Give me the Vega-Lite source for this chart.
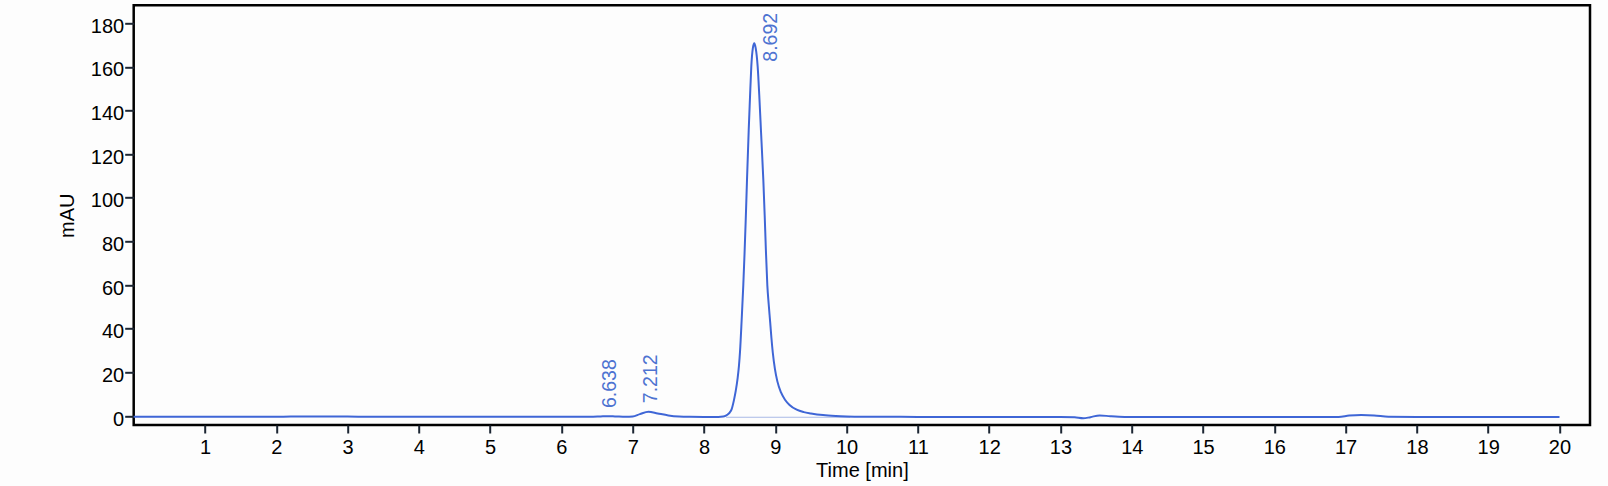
{
  "$schema": "https://vega.github.io/schema/vega-lite/v6.json",
  "autosize": "none",
  "padding": {"left": 133.7, "top": 5.3, "right": 18, "bottom": 61},
  "width": 1456.3,
  "height": 419.7,
  "background": "#fdfdfd",
  "config": {
    "view": {"stroke": "#000000", "strokeWidth": 2.5, "fill": "#fdfdfd"},
    "axis": {
      "domain": false,
      "grid": false,
      "labelFont": "Liberation Sans",
      "labelFontSize": 20,
      "labelColor": "#000000",
      "tickColor": "#1c2633",
      "tickWidth": 2,
      "titleFont": "Liberation Sans",
      "titleFontSize": 20,
      "titleFontWeight": "normal",
      "titleColor": "#000000"
    }
  },
  "datasets": {
    "trace": [
      {"time": 0, "mAU": -0.35},
      {"time": 1, "mAU": -0.35},
      {"time": 2, "mAU": -0.35},
      {"time": 2.2, "mAU": -0.2},
      {"time": 3.0, "mAU": -0.2},
      {"time": 3.3, "mAU": -0.35},
      {"time": 4, "mAU": -0.35},
      {"time": 5, "mAU": -0.35},
      {"time": 6, "mAU": -0.35},
      {"time": 6.4, "mAU": -0.3},
      {"time": 6.55, "mAU": -0.15},
      {"time": 6.64, "mAU": -0.05},
      {"time": 6.75, "mAU": -0.15},
      {"time": 6.9, "mAU": -0.35},
      {"time": 7.0, "mAU": -0.2},
      {"time": 7.1, "mAU": 0.9},
      {"time": 7.22, "mAU": 2.0},
      {"time": 7.35, "mAU": 1.2},
      {"time": 7.5, "mAU": 0.3},
      {"time": 7.65, "mAU": -0.2},
      {"time": 7.8, "mAU": -0.35},
      {"time": 8.0, "mAU": -0.4},
      {"time": 8.2, "mAU": -0.4},
      {"time": 8.27, "mAU": -0.25},
      {"time": 8.3, "mAU": 0.05},
      {"time": 8.327, "mAU": 0.6},
      {"time": 8.36, "mAU": 1.6},
      {"time": 8.388, "mAU": 3.2},
      {"time": 8.42, "mAU": 7.3},
      {"time": 8.445, "mAU": 11.5},
      {"time": 8.472, "mAU": 17.5},
      {"time": 8.49, "mAU": 23},
      {"time": 8.505, "mAU": 29.5},
      {"time": 8.528, "mAU": 44},
      {"time": 8.551, "mAU": 60},
      {"time": 8.568, "mAU": 74},
      {"time": 8.585, "mAU": 89.8},
      {"time": 8.603, "mAU": 108.2},
      {"time": 8.627, "mAU": 131},
      {"time": 8.645, "mAU": 146},
      {"time": 8.663, "mAU": 160},
      {"time": 8.685, "mAU": 168.6},
      {"time": 8.705, "mAU": 170.8},
      {"time": 8.725, "mAU": 168.6},
      {"time": 8.753, "mAU": 160},
      {"time": 8.775, "mAU": 147},
      {"time": 8.8, "mAU": 130},
      {"time": 8.832, "mAU": 108.2},
      {"time": 8.851, "mAU": 92},
      {"time": 8.868, "mAU": 76},
      {"time": 8.888, "mAU": 60},
      {"time": 8.908, "mAU": 51},
      {"time": 8.928, "mAU": 43},
      {"time": 8.945, "mAU": 36},
      {"time": 8.965, "mAU": 29},
      {"time": 8.995, "mAU": 21.5},
      {"time": 9.028, "mAU": 16},
      {"time": 9.08, "mAU": 10.8},
      {"time": 9.136, "mAU": 7.5},
      {"time": 9.2, "mAU": 5.1},
      {"time": 9.3, "mAU": 2.9},
      {"time": 9.4, "mAU": 1.8},
      {"time": 9.5, "mAU": 1.2},
      {"time": 9.67, "mAU": 0.46},
      {"time": 9.85, "mAU": 0.05},
      {"time": 10.0, "mAU": -0.15},
      {"time": 10.2, "mAU": -0.3},
      {"time": 10.6, "mAU": -0.35},
      {"time": 11, "mAU": -0.4},
      {"time": 12, "mAU": -0.4},
      {"time": 13.0, "mAU": -0.4},
      {"time": 13.2, "mAU": -0.6},
      {"time": 13.32, "mAU": -1.05},
      {"time": 13.42, "mAU": -0.5},
      {"time": 13.55, "mAU": 0.3},
      {"time": 13.7, "mAU": -0.1},
      {"time": 13.9, "mAU": -0.4},
      {"time": 15, "mAU": -0.4},
      {"time": 16, "mAU": -0.4},
      {"time": 16.9, "mAU": -0.4},
      {"time": 17.05, "mAU": 0.2},
      {"time": 17.22, "mAU": 0.46},
      {"time": 17.4, "mAU": 0.3},
      {"time": 17.6, "mAU": -0.35},
      {"time": 18, "mAU": -0.4},
      {"time": 20, "mAU": -0.4}
    ],
    "peaks": [
      {"rt": 6.638, "height": -0.2, "label": "6.638", "major": false},
      {"rt": 7.212, "height": 2.0, "label": "7.212", "major": false},
      {"rt": 8.692, "height": 170.8, "label": "8.692", "major": true}
    ],
    "baselines": [
      {"start": 8.31, "end": 10.05, "level": -0.55}
    ]
  },
  "layer": [
    {
      "data": {"name": "baselines"},
      "mark": {"type": "rule", "color": "#a9b9e6", "strokeWidth": 1},
      "encoding": {
        "x": {"field": "start", "type": "quantitative", "scale": {"domain": [0, 20.428], "nice": false, "zero": false}},
        "x2": {"field": "end"},
        "y": {"field": "level", "type": "quantitative", "scale": {"domain": [-4.1, 188.2], "nice": false, "zero": false}}
      }
    },
    {
      "data": {"name": "trace"},
      "mark": {"type": "line", "color": "#3f66d6", "strokeWidth": 2, "interpolate": "monotone"},
      "encoding": {
        "x": {
          "field": "time",
          "type": "quantitative",
          "title": "Time [min]",
          "axis": {
            "values": [1, 2, 3, 4, 5, 6, 7, 8, 9, 10, 11, 12, 13, 14, 15, 16, 17, 18, 19, 20],
            "format": "d",
            "tickSize": 8,
            "labelPadding": 4,
            "titleBaseline": "alphabetic",
            "titleAlign": "center",
            "titleX": 728.2,
            "titleY": 51
          }
        },
        "y": {
          "field": "mAU",
          "type": "quantitative",
          "title": "mAU",
          "axis": {
            "values": [0, 20, 40, 60, 80, 100, 120, 140, 160, 180],
            "format": "d",
            "tickSize": 9,
            "labelPadding": 1,
            "labelOffset": 3,
            "titleAngle": 270,
            "titleBaseline": "alphabetic",
            "titleAlign": "center",
            "titleX": -60.4,
            "titleY": 210
          }
        }
      }
    },
    {
      "data": {"name": "peaks"},
      "transform": [{"filter": "!datum.major"}],
      "mark": {"type": "text", "angle": 270, "align": "left", "baseline": "alphabetic", "dx": 8.5, "dy": 9.5, "font": "Liberation Sans", "fontSize": 19.5, "color": "#4d73d1"},
      "encoding": {
        "x": {"field": "rt", "type": "quantitative"},
        "y": {"field": "height", "type": "quantitative"},
        "text": {"field": "label", "type": "nominal"}
      }
    },
    {
      "data": {"name": "peaks"},
      "transform": [{"filter": "datum.major"}],
      "mark": {"type": "text", "angle": 270, "align": "left", "baseline": "alphabetic", "dx": -18.4, "dy": 23.3, "font": "Liberation Sans", "fontSize": 19.5, "color": "#4d73d1"},
      "encoding": {
        "x": {"field": "rt", "type": "quantitative"},
        "y": {"field": "height", "type": "quantitative"},
        "text": {"field": "label", "type": "nominal"}
      }
    }
  ]
}
